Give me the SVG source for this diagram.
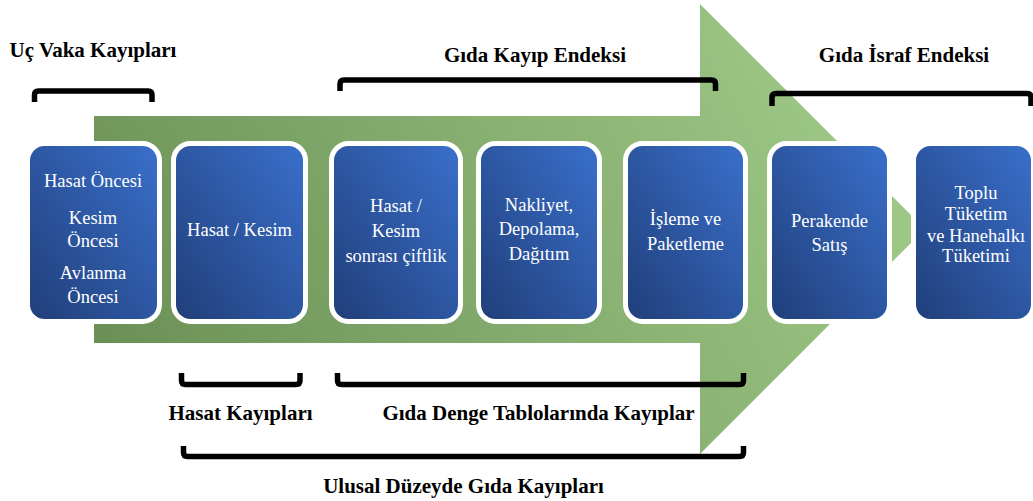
<svg xmlns="http://www.w3.org/2000/svg" width="1033" height="501" viewBox="0 0 1033 501">
<defs>
<linearGradient id="gArrow" gradientUnits="userSpaceOnUse" x1="94" y1="454" x2="925" y2="4">
<stop offset="0" stop-color="#678c52"/>
<stop offset="1" stop-color="#a5d08d"/>
</linearGradient>
<linearGradient id="gBox" x1="0" y1="1" x2="1" y2="0">
<stop offset="0" stop-color="#203e79"/>
<stop offset="1" stop-color="#3a70cc"/>
</linearGradient>
<style>
.box{fill:url(#gBox);stroke:#fff;stroke-width:5}
.bt{font-family:"Liberation Serif","Times New Roman",serif;font-size:18.5px;fill:#fff;text-anchor:middle}
.tt{font-family:"Liberation Serif","Times New Roman",serif;font-size:21px;font-weight:bold;fill:#000;text-anchor:middle}
.br{fill:none;stroke:#000;stroke-width:5.5}
</style>
</defs>
<rect width="1033" height="501" fill="#fff"/>
<g id="arrow">
<path d="M94,116 H700 V4 L925,229 L700,454 V343 H94 Z" fill="url(#gArrow)"/>
</g>
<g id="n1">
<rect class="box" x="27.5" y="143.5" width="132" height="178" rx="17"/>
<text class="bt" x="93" y="187">Hasat Öncesi</text>
<text class="bt" x="93" y="224">Kesim</text>
<text class="bt" x="93" y="247">Öncesi</text>
<text class="bt" x="93" y="279">Avlanma</text>
<text class="bt" x="93" y="303">Öncesi</text>
</g>
<g id="n2">
<rect class="box" x="173.5" y="143.5" width="132" height="178" rx="17"/>
<text class="bt" x="239.5" y="236">Hasat / Kesim</text>
</g>
<g id="n3">
<rect class="box" x="331.5" y="143.5" width="129" height="178" rx="17"/>
<text class="bt" x="396" y="212">Hasat /</text>
<text class="bt" x="396" y="237">Kesim</text>
<text class="bt" x="396" y="262">sonrası çiftlik</text>
</g>
<g id="n4">
<rect class="box" x="478.5" y="143.5" width="121" height="178" rx="17"/>
<text class="bt" x="539" y="211">Nakliyet,</text>
<text class="bt" x="539" y="235">Depolama,</text>
<text class="bt" x="539" y="260">Dağıtım</text>
</g>
<g id="n5">
<rect class="box" x="625.5" y="143.5" width="120" height="178" rx="17"/>
<text class="bt" x="685.5" y="225">İşleme ve</text>
<text class="bt" x="685.5" y="250">Paketleme</text>
</g>
<g id="n6">
<rect class="box" x="769.5" y="143.5" width="120" height="178" rx="17"/>
<text class="bt" x="829.5" y="227">Perakende</text>
<text class="bt" x="829.5" y="251">Satış</text>
</g>
<g id="n7">
<rect class="box" x="913.5" y="143.5" width="120" height="178" rx="17"/>
<text class="bt" x="976" y="199">Toplu</text>
<text class="bt" x="976" y="220">Tüketim</text>
<text class="bt" x="976" y="242">ve Hanehalkı</text>
<text class="bt" x="976" y="262">Tüketimi</text>
</g>
<g id="brackets">
<path class="br" d="M34.5,102 V95 Q34.5,91 38.5,91 H148 Q152,91 152,95 V102"/>
<path class="br" d="M340,91 V84 Q340,80 344,80 H711.5 Q715.5,80 715.5,84 V91"/>
<path class="br" d="M772,106 V97.5 Q772,93.5 776,93.5 H1027 Q1031,93.5 1031,97.5 V106"/>
<path class="br" d="M181.5,373 V380.5 Q181.5,384.5 185.5,384.5 H296 Q300,384.5 300,380.5 V373"/>
<path class="br" d="M337.5,373 V380.5 Q337.5,384.5 341.5,384.5 H739.5 Q743.5,384.5 743.5,380.5 V373"/>
<path class="br" d="M183.5,446 V452.5 Q183.5,456.5 187.5,456.5 H739.5 Q743.5,456.5 743.5,452.5 V446"/>
</g>
<g id="labels">
<text class="tt" x="93" y="57">Uç Vaka Kayıpları</text>
<text class="tt" x="535" y="62">Gıda Kayıp Endeksi</text>
<text class="tt" x="904" y="62">Gıda İsraf Endeksi</text>
<text class="tt" x="240.5" y="420">Hasat Kayıpları</text>
<text class="tt" x="538.5" y="420">Gıda Denge Tablolarında Kayıplar</text>
<text class="tt" x="463.5" y="493">Ulusal Düzeyde Gıda Kayıpları</text>
</g>
</svg>
